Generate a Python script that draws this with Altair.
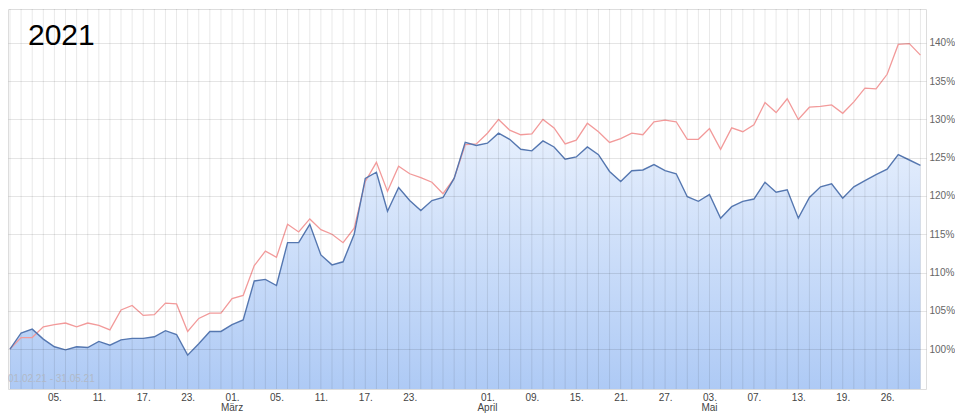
import altair as alt
import pandas as pd

# Trading days 01.02.21 - 31.05.21 (Xetra holidays removed)
holidays = ["2021-04-02", "2021-04-05", "2021-05-24"]
days = [d for d in pd.bdate_range("2021-02-01", "2021-05-31").strftime("%Y-%m-%d") if d not in holidays]

blue = [100.0, 102.1, 102.6, 101.3, 100.3, 99.9, 100.3, 100.2, 101.0, 100.5,
        101.2, 101.4, 101.4, 101.6, 102.4, 101.9, 99.2, 100.7, 102.3, 102.3,
        103.2, 103.8, 108.9, 109.1, 108.3, 113.9, 113.9, 116.3, 112.3, 111.0,
        111.4, 115.0, 122.3, 123.1, 118.0, 121.1, 119.4, 118.1, 119.4, 119.8,
        122.3, 127.0, 126.6, 126.9, 128.2, 127.4, 126.1, 125.9, 127.2, 126.4,
        124.8, 125.1, 126.4, 125.4, 123.2, 121.9, 123.3, 123.4, 124.1, 123.3,
        122.9, 119.9, 119.3, 120.2, 117.1, 118.6, 119.3, 119.6, 121.8, 120.5,
        120.8, 117.1, 119.8, 121.2, 121.6, 119.7, 121.2, 122.0, 122.8, 123.5,
        125.4, 124.7, 124.0]

red = [100.0, 101.5, 101.5, 102.9, 103.2, 103.4, 102.9, 103.4, 103.1, 102.5,
       105.1, 105.7, 104.4, 104.5, 106.0, 105.9, 102.3, 104.0, 104.7, 104.7,
       106.6, 107.0, 110.9, 112.8, 112.0, 116.3, 115.3, 117.0, 115.6, 115.0,
       113.9, 115.8, 121.9, 124.4, 120.6, 123.9, 122.9, 122.4, 121.8, 120.3,
       122.3, 126.7, 126.8, 128.2, 130.0, 128.6, 128.0, 128.1, 130.0, 128.9,
       126.8, 127.3, 129.5, 128.4, 127.0, 127.5, 128.2, 128.0, 129.7, 129.9,
       129.7, 127.4, 127.4, 128.8, 126.1, 128.9, 128.4, 129.3, 132.2, 130.9,
       132.7, 130.0, 131.6, 131.7, 131.9, 130.8, 132.3, 134.1, 134.0, 135.9,
       139.8, 139.9, 138.4]

tick_idx = [4, 8, 12, 16, 20, 24, 28, 32, 36, 43, 47, 51, 55, 59, 63, 67, 71, 75, 79]
tick_labels = ["05.", "11.", "17.", "23.", "01.", "05.", "11.", "17.", "23.", "01.",
               "09.", "15.", "21.", "27.", "03.", "07.", "13.", "19.", "26."]
month_idx = [20, 43, 63]
month_names = ["März", "April", "Mai"]
y_ticks = [100, 105, 110, 115, 120, 125, 130, 135, 140]

Y_MIN, Y_MAX = 94.78, 144.43
X_MIN, X_MAX = -0.18, 82.5
W, H = 918, 380

df = pd.DataFrame({"i": list(range(len(days))), "date": days, "blue": blue, "red": red})
mdf = pd.DataFrame({"i": month_idx, "m": month_names})

idx_js = ",".join(map(str, tick_idx))
lab_js = ",".join("'%s'" % s for s in tick_labels)
label_expr = "[%s][indexof([%s], datum.value)]" % (lab_js, idx_js)

xscale = alt.Scale(domain=[X_MIN, X_MAX], nice=False, zero=False)
yscale = alt.Scale(domain=[Y_MIN, Y_MAX], nice=False, zero=False)

x = alt.X("i:Q", scale=xscale,
          axis=alt.Axis(values=tick_idx, labelExpr=label_expr, title=None,
                        grid=False, ticks=False, domain=False,
                        labelOverlap=False, labelFlush=False, labelColor="#444",
                        labelFontSize=10, labelFont="Liberation Sans", labelPadding=3))

base = alt.Chart(df)

area = base.mark_area(
    clip=True,
    color=alt.Gradient(gradient="linear",
                       stops=[alt.GradientStop(color="#e6effd", offset=0),
                              alt.GradientStop(color="#aecaf5", offset=1)],
                       x1=1, x2=1, y1=0, y2=1),
).encode(
    x=x,
    y=alt.Y("blue:Q", scale=yscale,
            axis=alt.Axis(values=y_ticks, orient="right", labelExpr="datum.value + '%'",
                          title=None, grid=True, gridColor="#000", gridOpacity=0.1,
                          ticks=False, domain=False, labelColor="#666", labelFontSize=10,
                          labelFont="Liberation Sans", labelPadding=3, zindex=1)),
    y2=alt.datum(Y_MIN),
)

vgrid = base.mark_rule(color="#000", opacity=0.09, strokeWidth=1).encode(
    x=alt.X("i:Q", scale=xscale))

red_line = base.mark_line(color="#f29a9a", strokeWidth=1.3, clip=True).encode(
    x="i:Q", y=alt.Y("red:Q", scale=yscale))
blue_line = base.mark_line(color="#5577b0", strokeWidth=1.4, clip=True).encode(
    x="i:Q", y=alt.Y("blue:Q", scale=yscale))

month_text = alt.Chart(mdf).mark_text(
    align="center", baseline="middle", fontSize=10, font="Liberation Sans", color="#444"
).encode(x=alt.X("i:Q", scale=xscale), y=alt.value(H + 19), text="m:N")

year_text = alt.Chart(pd.DataFrame({"t": ["2021"]})).mark_text(
    align="left", baseline="alphabetic", fontSize=30, font="Liberation Sans", color="#000"
).encode(x=alt.value(20), y=alt.value(36), text="t:N")

range_text = alt.Chart(pd.DataFrame({"t": ["01.02.21 - 31.05.21"]})).mark_text(
    align="left", baseline="middle", fontSize=10, font="Liberation Sans", color="#b0b9c8"
).encode(x=alt.value(0), y=alt.value(370), text="t:N")

chart = alt.layer(area, vgrid, red_line, blue_line, month_text, year_text, range_text).properties(
    width=W, height=H, padding=0
).configure_view(stroke="#dddddd", strokeWidth=1).configure(background="white")

chart.save("out.html", embed_options={"renderer": "svg", "actions": False})
